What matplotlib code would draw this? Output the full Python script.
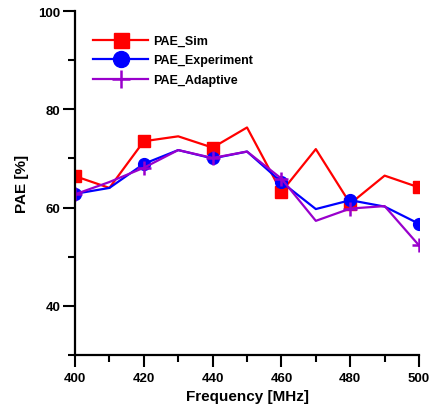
import matplotlib
matplotlib.use("Agg")
import matplotlib.pyplot as plt
from matplotlib.ticker import MultipleLocator

freq = [400, 410, 420, 430, 440, 450, 460, 470, 480, 490, 500]
pae_sim = [66.4, 64.0, 73.5, 74.5, 72.2, 76.3, 63.2, 71.9, 60.8, 66.5, 64.1]
pae_exp = [62.8, 64.0, 68.9, 71.7, 70.0, 71.4, 65.2, 59.7, 61.5, 60.2, 56.7]
pae_ada = [62.7, 65.2, 68.1, 71.7, 70.1, 71.4, 65.9, 57.3, 59.8, 60.3, 52.3]
labels = ["PAE_Sim", "PAE_Experiment", "PAE_Adaptive"]

plt.rcParams['font.family'] = ['Liberation Sans', 'DejaVu Sans']

fig = plt.figure(figsize=(4.32, 4.10), dpi=100)
ax = fig.add_axes([0.1736, 0.1317, 0.7964, 0.839])

ax.plot(freq, pae_sim, color='#FF0000', lw=1.6, marker='s', ms=8, markevery=2, label=labels[0])
ax.plot(freq, pae_exp, color='#0000FF', lw=1.6, marker='o', ms=8.5, markevery=2, label=labels[1])
ax.plot(freq, pae_ada, color='#9900CC', lw=1.6, marker='+', ms=10, mew=1.8, markevery=2, label=labels[2])

ax.set_xlim(400, 500)
ax.set_ylim(30, 100)
ax.xaxis.set_major_locator(MultipleLocator(20))
ax.xaxis.set_minor_locator(MultipleLocator(10))
ax.set_yticks([40, 60, 80, 100])
ax.set_yticks([30, 50, 70, 90], minor=True)

for s in ['top', 'right']:
    ax.spines[s].set_visible(False)
for s in ['left', 'bottom']:
    ax.spines[s].set_linewidth(1.6)

ax.tick_params(which='major', length=8.5, width=1.5, labelsize=9.5)
ax.tick_params(axis='x', which='major', pad=4)
ax.tick_params(axis='y', which='major', pad=2)
ax.tick_params(which='minor', length=5, width=1.5)
for lbl in ax.get_xticklabels() + ax.get_yticklabels():
    lbl.set_fontweight('bold')

ax.set_xlabel('Frequency [MHz]', fontsize=11, fontweight='bold', labelpad=3)
ax.set_ylabel('PAE [%]', fontsize=11, fontweight='bold', labelpad=7)

leg = ax.legend(loc='upper left', bbox_to_anchor=(0.02, 0.963), frameon=False,
                markerscale=1.35, handlelength=4.4, handletextpad=0.4,
                labelspacing=0.6, prop={'weight': 'bold', 'size': 9})

fig.savefig('out.png', dpi=100)
